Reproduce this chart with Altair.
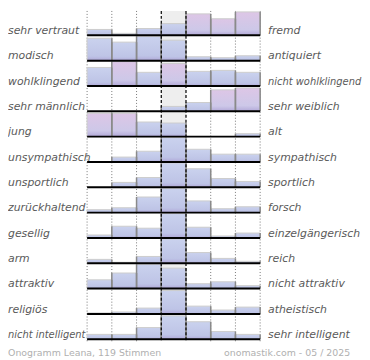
import altair as alt
import pandas as pd

left_labels = ["sehr vertraut", "modisch", "wohlklingend", "sehr männlich", " jung",
               "unsympathisch", "unsportlich", "zurückhaltend", "gesellig", "arm",
               "attraktiv", "religiös", "nicht intelligent"]
right_labels = ["fremd", "antiquiert", "nicht wohlklingend", "sehr weiblich", "alt",
                "sympathisch", "sportlich", "forsch", "einzelgängerisch", "reich",
                "nicht attraktiv", "atheistisch", "sehr intelligent"]

r01 = [6, 2, 7, 12, 22, 17, 24]
r02 = [23, 19, 25, 21, 4, 3, 5]
r03 = [19, 25, 14, 23, 15, 16, 14]
r04 = [0, 0, 0, 5, 9, 22, 24]
r05 = [24, 24, 15, 14, 0, 0, 3]
r06 = [0, 5, 11, 25, 13, 8, 8]
r07 = [0, 5, 10, 25, 19, 9, 6]
r08 = [3, 5, 16, 25, 12, 4, 6]
r09 = [3, 12, 10, 25, 11, 2, 5]
r10 = [4, 1, 7, 25, 11, 5, 2]
r11 = [9, 16, 25, 21, 5, 7, 3]
r12 = [1, 2, 6, 24, 8, 4, 7]
r13 = [5, 5, 12, 24, 18, 8, 5]
values = [r01, r02, r03, r04, r05, r06, r07, r08, r09, r10, r11, r12, r13]

# highlighted (pink) bars: (row, column)
pink_bars = [(0, 4), (0, 5), (0, 6), (2, 1), (2, 3), (3, 5), (3, 6), (4, 0), (4, 1)]

footer_left = "Onogramm Leana, 119 Stimmen"
footer_right = "onomastik.com - 05 / 2025"

ROW = 26
TOTAL = 13 * ROW

recs = []
for r, row in enumerate(values):
    for c, v in enumerate(row):
        recs.append({"row": r, "col": c, "col2": c + 1, "v": v,
                     "pink": 1 if (r, c) in pink_bars else 0})
bars = pd.DataFrame(recs)
lab = pd.DataFrame({"row": list(range(13)), "left": left_labels, "right": right_labels})

xs = alt.Scale(domain=[0, 7])
ys = alt.Scale(domain=[0, TOTAL], reverse=True)


def X(f):
    return alt.X(f, type="quantitative", scale=xs, axis=None)


def Y(f):
    return alt.Y(f, type="quantitative", scale=ys, axis=None)


base_calc = dict(base=f"datum.row*{ROW}+25", top=f"datum.row*{ROW}+25-datum.v")

bg = alt.Chart(pd.DataFrame({"a": [3], "b": [4], "t": [0], "u": [TOTAL - 1]})).mark_rect(
    color="#eeeeee").encode(x=X("a"), x2="b", y=Y("t"), y2="u")

dotted = alt.Chart(pd.DataFrame({"x": [0, 1, 2, 5, 6, 7]})).transform_calculate(
    t="0", u=str(TOTAL + 2)).mark_rule(color="#777777", strokeDash=[1, 2], strokeWidth=1).encode(
    x=X("x"), y=Y("t:Q"), y2="u:Q")

blue_grad = alt.LinearGradient(gradient="linear", x1=0, x2=0, y1=0, y2=1, stops=[
    alt.GradientStop(color="#cad2ee", offset=0),
    alt.GradientStop(color="#bec4e6", offset=0.8),
    alt.GradientStop(color="#b0a8d8", offset=1)])
pink_grad = alt.LinearGradient(gradient="linear", x1=0, x2=0, y1=0, y2=1, stops=[
    alt.GradientStop(color="#ddc6e6", offset=0),
    alt.GradientStop(color="#cdc8e8", offset=0.75),
    alt.GradientStop(color="#b2a8d8", offset=1)])

bar_base = alt.Chart(bars).transform_filter("datum.v > 0").transform_calculate(**base_calc)
bars_blue = bar_base.transform_filter("datum.pink == 0").mark_bar(
    color=blue_grad, stroke="#cccccc", strokeWidth=1).encode(
    x=X("col"), x2="col2", y=Y("top:Q"), y2="base:Q")
bars_pink = bar_base.transform_filter("datum.pink == 1").mark_bar(
    color=pink_grad, stroke="#cccccc", strokeWidth=1).encode(
    x=X("col"), x2="col2", y=Y("top:Q"), y2="base:Q")

edge_r = bar_base.mark_rule(color="#8a8a8a", strokeWidth=1.5).encode(
    x=X("col2"), y=Y("top:Q"), y2="base:Q")
edge_l = bar_base.transform_filter("datum.col > 0").mark_rule(color="#8a8a8a", strokeWidth=1.5).encode(
    x=X("col"), y=Y("top:Q"), y2="base:Q")

dashed = alt.Chart(pd.DataFrame({"x": [3, 4]})).transform_calculate(
    t="0", u=str(TOTAL + 2)).mark_rule(color="#000000", strokeDash=[3, 2], strokeWidth=1.2).encode(
    x=X("x"), y=Y("t:Q"), y2="u:Q")

baselines = alt.Chart(lab).transform_calculate(
    a="0", b="7", base=f"datum.row*{ROW}+25").mark_rule(color="#000000", strokeWidth=2).encode(
    x=X("a:Q"), x2="b:Q", y=Y("base:Q"))

lab_base = alt.Chart(lab).transform_calculate(ly=f"datum.row*{ROW}+20.5")
left_txt = lab_base.mark_text(align="left", baseline="middle", font="DejaVu Sans",
                              fontStyle="italic", color="#5a5a5a").encode(
    x=alt.value(-80), y=Y("ly:Q"), text="left:N",
    size=alt.condition("length(datum.left) > 16", alt.value(10), alt.value(11)))
right_txt = lab_base.mark_text(align="left", baseline="middle", font="DejaVu Sans",
                               fontStyle="italic", color="#5a5a5a").encode(
    x=alt.value(183), y=Y("ly:Q"), text="right:N",
    size=alt.condition("length(datum.right) > 17", alt.value(10), alt.value(11)))

foot = pd.DataFrame({"t": [footer_left, footer_right], "y": [351.5, 351.5],
                     "side": ["l", "r"]})
foot_l = alt.Chart(foot).transform_filter("datum.side == 'l'").mark_text(
    align="left", baseline="middle", font="DejaVu Sans", fontSize=9.5, color="#b0b0b0").encode(
    x=alt.value(-80), y=Y("y:Q"), text="t:N")
foot_r = alt.Chart(foot).transform_filter("datum.side == 'r'").mark_text(
    align="right", baseline="middle", font="DejaVu Sans", fontSize=9.5, color="#b0b0b0").encode(
    x=alt.value(266), y=Y("y:Q"), text="t:N")

chart = alt.layer(bg, dotted, bars_blue, bars_pink, edge_r, edge_l, dashed, baselines,
                  left_txt, right_txt, foot_l, foot_r).properties(
    width=175, height=333, padding=0).configure_view(stroke=None)

chart.save("out.html", embed_options={"renderer": "svg", "actions": False})
